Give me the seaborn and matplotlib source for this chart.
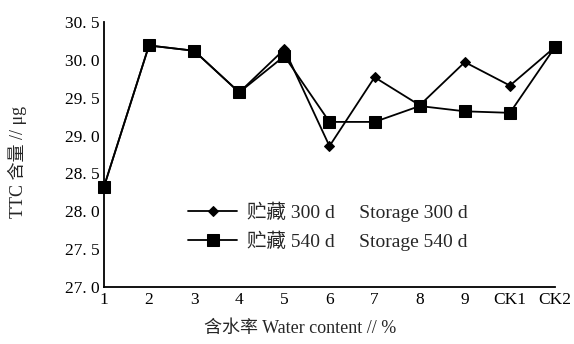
import numpy as np
import pandas as pd
import matplotlib
matplotlib.use("Agg")
import matplotlib.pyplot as plt
import seaborn as sns

categories = ['1', '2', '3', '4', '5', '6', '7', '8', '9', 'CK1', 'CK2']
ttc_300 = [28.32, 30.19, 30.12, 29.57, 30.14, 28.86, 29.77, 29.40, 29.97, 29.66, 30.17]
ttc_540 = [28.32, 30.19, 30.12, 29.57, 30.05, 29.18, 29.18, 29.39, 29.32, 29.30, 30.17]
label_300 = '贮藏 300 d     Storage 300 d'
label_540 = '贮藏 540 d     Storage 540 d'
yticks = [27.0, 27.5, 28.0, 28.5, 29.0, 29.5, 30.0, 30.5]

sns.set_style('white')
plt.rcParams['font.family'] = ['Liberation Serif', 'Noto Sans CJK SC']
plt.rcParams['axes.unicode_minus'] = False

pos = np.arange(len(categories))
df = pd.DataFrame({
    'pos': np.concatenate([pos, pos]),
    'ttc': ttc_300 + ttc_540,
    'series': [label_300] * len(pos) + [label_540] * len(pos),
})

fig = plt.figure(figsize=(5.74, 3.44), dpi=100)
ax = fig.add_axes([0.181, 0.166, 0.786, 0.770])

sns.lineplot(data=df, x='pos', y='ttc', hue='series', style='series',
             palette=['black', 'black'], markers=['D', 's'], dashes=False,
             markersize=6, linewidth=1.3, markeredgecolor='black', ax=ax)
# smaller diamond like the reference
for line, ms in zip(ax.lines, [5, 8]):
    line.set_markersize(ms)
    line.set_clip_on(False)

ax.set_xlim(0, len(categories) - 1)
ax.set_ylim(27.0, 30.5)
ax.set_xticks(pos)
ax.set_xticklabels(categories)
ax.set_yticks(yticks)
ax.set_yticklabels([f'{v:.1f}'.replace('.', '. ') for v in yticks])

for s in ['top', 'right']:
    ax.spines[s].set_visible(False)
for s in ['left', 'bottom']:
    ax.spines[s].set_color('black')
    ax.spines[s].set_linewidth(1.3)
ax.tick_params(axis='both', direction='in', length=4, width=1.3, colors='black', labelsize=12.5)
ax.tick_params(axis='x', pad=4)
ax.tick_params(axis='y', pad=3)

ax.set_xlabel('含水率 Water content // %', fontsize=13, labelpad=6)
ax.xaxis.set_label_coords(0.435, -0.125)
ax.set_ylabel('TTC 含量 // μg', fontsize=13)
ax.yaxis.set_label_coords(-0.17, 0.47)

handles, labels = ax.get_legend_handles_labels()
for h, ms in zip(handles, [5, 8]):
    h.set_markersize(ms)
ax.legend(handles, labels, loc='center left', bbox_to_anchor=(0.187, 0.23), frameon=False,
          fontsize=14, handlelength=2.5, handletextpad=0.5, labelspacing=0.45,
          borderpad=0, borderaxespad=0)

fig.savefig('out.png', dpi=100)
